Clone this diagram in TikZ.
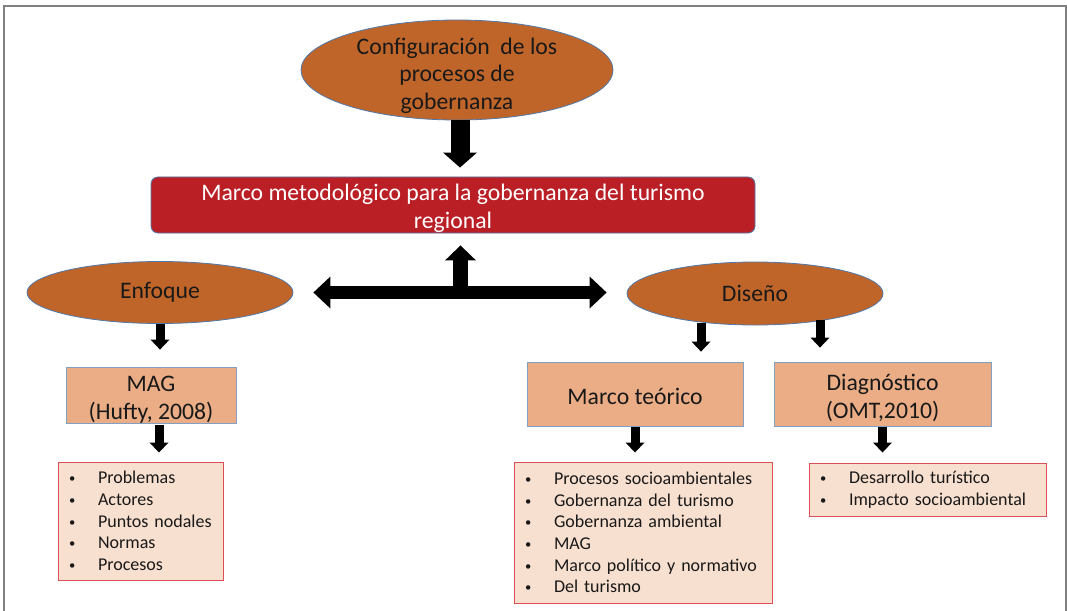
\documentclass[tikz,border=0pt]{standalone}
\usepackage{fontspec}
\setmainfont{Carlito}
\usetikzlibrary{arrows.meta,shapes.geometric}
\definecolor{ellfill}{RGB}{192,101,42}
\definecolor{outl}{RGB}{80,120,170}
\definecolor{redbox}{RGB}{187,31,38}
\definecolor{peach}{RGB}{234,173,134}
\definecolor{peachout}{RGB}{130,160,195}
\definecolor{listfill}{RGB}{248,224,208}
\definecolor{listout}{RGB}{218,80,85}
\definecolor{framegray}{RGB}{128,128,128}
\definecolor{txt}{RGB}{25,25,25}
\newcommand{\bul}{\makebox[29pt][l]{\raisebox{1pt}{\scalebox{0.7}{\textbullet}}}}
\begin{document}
\begin{tikzpicture}[x=1pt,y=-1pt,
  ell/.style={ellipse,draw=outl,line width=0.8pt,fill=ellfill,inner sep=0pt,align=center,text=txt,font=\fontsize{23.7}{27.5}\selectfont},
  redrect/.style={rectangle,rounded corners=7pt,draw=outl,line width=0.8pt,fill=redbox,text=white,align=center,font=\fontsize{23.7}{28}\selectfont,minimum width=604pt,minimum height=56pt,inner sep=0pt},
  srcbox/.style={rectangle,draw=peachout,line width=0.8pt,fill=peach,align=center,text=txt,inner sep=0pt,font=\fontsize{23.7}{28}\selectfont},
  listbox/.style={rectangle,draw=listout,line width=1pt,fill=listfill,align=left,text=txt,inner xsep=11pt,inner ysep=0pt,font=\fontsize{18}{21.6}\selectfont},
  bigarrow/.style={line width=19pt,-{Triangle[length=15pt,width=34pt,line width=0pt]}},
  uparrow/.style={line width=15pt,-{Triangle[length=15pt,width=31pt,line width=0pt]}},
  dblarrow/.style={line width=13pt,{Triangle[length=17pt,width=32pt,line width=0pt]}-{Triangle[length=17pt,width=32pt,line width=0pt]}},
  sarrow/.style={line width=9pt,-{Triangle[length=10pt,width=19pt,line width=0pt]}}
]
\useasboundingbox (0,0) rectangle (1067,610);
\fill[white] (0,0) rectangle (1067,610);
\begin{scope}
\clip (0,0) rectangle (1067,610);
\draw[framegray,line width=2pt] (4,6.5) rectangle (1065.5,640);
\end{scope}

\node[ell,minimum width=312pt,minimum height=100pt,inner ysep=-25pt] (top) at (457,70) {\rule{0pt}{28pt}Configuración\ \ de los\\procesos de\\gobernanza};
\node[redrect] (red) at (453,205) {\rule{0pt}{24pt}Marco metodológico para la gobernanza del turismo\\regional};
\node[ell,minimum width=266pt,minimum height=62pt] (enf) at (160,292.5) {Enfoque};
\node[ell,minimum width=256pt,minimum height=63pt] (dis) at (755,293.5) {Diseño};

\node[srcbox,minimum width=170pt,minimum height=56pt] (mag) at (151,395) {\rule{0pt}{24pt}MAG\\(Hufty, 2008)};
\node[srcbox,minimum width=216pt,minimum height=64pt] (mt) at (635,394) {\rule{0pt}{21pt}Marco teórico};
\node[srcbox,minimum width=217pt,minimum height=64pt] (diag) at (882.5,394) {\rule{0pt}{24pt}Diagnóstico\\(OMT,2010)};

\node[listbox,text width=143pt,minimum height=118pt] (l1) at (140.5,521) {\bul Problemas\\\bul Actores\\\bul Puntos nodales\\\bul Normas\\\bul Procesos};
\node[listbox,text width=236pt,minimum height=141pt] (l2) at (643,532.5) {\bul Procesos socioambientales\\\bul Gobernanza del turismo\\\bul Gobernanza ambiental\\\bul MAG\\\bul Marco político y normativo\\\bul Del turismo};
\node[listbox,text width=215pt,minimum height=53pt] (l3) at (927.5,489.5) {\bul Desarrollo turístico\\\bul Impacto socioambiental};

% big arrows
\coordinate (ta) at ([xshift=3pt]top.south);
\draw[bigarrow,shorten >=9pt] (ta) -- (ta |- red.north);
\coordinate (hl) at ([xshift=20pt]enf.east);
\coordinate (hr) at ([xshift=-20pt]dis.west |- hl);
\draw[dblarrow] (hl) -- (hr);
\coordinate (jn) at (460.5,291.5);
\draw[uparrow,shorten >=12pt] (jn) -- (jn |- red.south);

% small arrows
\draw[sarrow,shorten >=17pt] (enf.south) -- (enf.south |- mag.north);
\coordinate (ma) at ([xshift=8pt]mag.south);
\draw[sarrow,shorten <=2pt,shorten >=9pt] (ma) -- (ma |- l1.north);
\coordinate (d1) at ([xshift=-54pt,yshift=2pt]dis.south);
\draw[sarrow,shorten >=10pt] (d1) -- (d1 |- mt.north);
\coordinate (d2) at ([xshift=65pt,yshift=5pt]dis.south);
\draw[sarrow,shorten >=14pt] (d2) -- (d2 |- diag.north);
\draw[sarrow,shorten <=1pt,shorten >=9pt] (mt.south) -- (mt.south |- l2.north);
\draw[sarrow,shorten <=1pt,shorten >=10pt] (diag.south) -- (diag.south |- l3.north);
\end{tikzpicture}
\end{document}
